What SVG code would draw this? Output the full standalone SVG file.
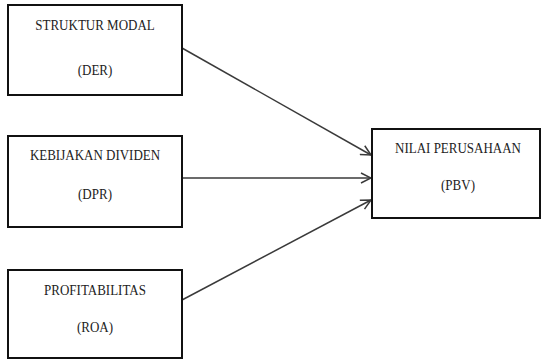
<svg xmlns="http://www.w3.org/2000/svg" width="542" height="360" viewBox="0 0 542 360">
  <style>
    .box { fill: #ffffff; stroke: #111111; stroke-width: 2; }
    .conn { stroke: #3a3a3a; stroke-width: 1.5; fill: none; marker-end: url(#arrow); }
  </style>
  <defs>
    <marker id="arrow" viewBox="0 0 12 12" refX="11" refY="6" markerWidth="12" markerHeight="12" markerUnits="userSpaceOnUse" orient="auto">
      <path d="M1,1 L11,6 L1,11" fill="none" stroke="#3a3a3a" stroke-width="1.5"/>
    </marker>
  </defs>
  <rect width="542" height="360" fill="#ffffff"/>

  <g id="connectors">
    <line class="conn" x1="182" y1="48" x2="371" y2="155"/>
    <line class="conn" x1="182" y1="178" x2="371" y2="178"/>
    <line class="conn" x1="182" y1="300" x2="371" y2="200"/>
  </g>

  <!-- labels: Times-style serif, slightly tall -->
  <g id="struktur-modal">
    <rect class="box" x="8" y="5" width="174" height="90"/>
    <text font-family="Liberation Serif" font-size="13" fill="#222222" text-anchor="middle" transform="translate(95,30) scale(1,1.2)">STRUKTUR MODAL</text>
    <text font-family="Liberation Serif" font-size="13" fill="#222222" text-anchor="middle" transform="translate(95,75) scale(1,1.2)">(DER)</text>
  </g>

  <g id="kebijakan-dividen">
    <rect class="box" x="8" y="136" width="174" height="91"/>
    <text font-family="Liberation Serif" font-size="13" fill="#222222" text-anchor="middle" transform="translate(95,160) scale(1,1.2)">KEBIJAKAN DIVIDEN</text>
    <text font-family="Liberation Serif" font-size="13" fill="#222222" text-anchor="middle" transform="translate(95,199) scale(1,1.2)">(DPR)</text>
  </g>

  <g id="profitabilitas">
    <rect class="box" x="8" y="270" width="174" height="88"/>
    <text font-family="Liberation Serif" font-size="13" fill="#222222" text-anchor="middle" transform="translate(95,295) scale(1,1.2)">PROFITABILITAS</text>
    <text font-family="Liberation Serif" font-size="13" fill="#222222" text-anchor="middle" transform="translate(95,332) scale(1,1.2)">(ROA)</text>
  </g>

  <g id="nilai-perusahaan">
    <rect class="box" x="372" y="129" width="168" height="89"/>
    <text font-family="Liberation Serif" font-size="13" fill="#222222" text-anchor="middle" transform="translate(458,153) scale(1,1.2)">NILAI PERUSAHAAN</text>
    <text font-family="Liberation Serif" font-size="13" fill="#222222" text-anchor="middle" transform="translate(458,190) scale(1,1.2)">(PBV)</text>
  </g>
</svg>
